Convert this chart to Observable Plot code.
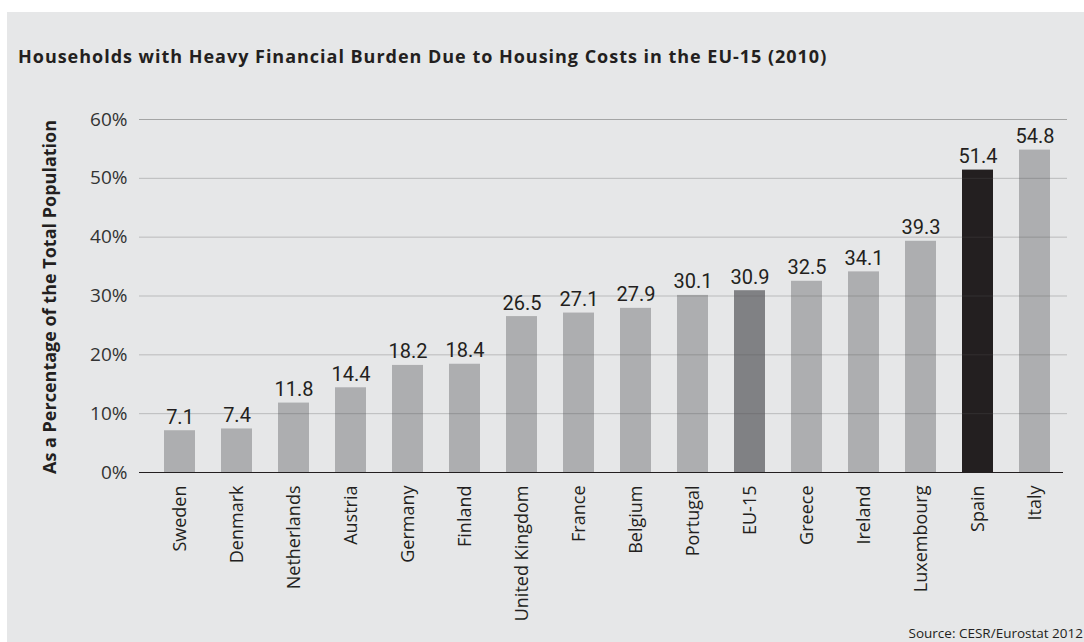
<!DOCTYPE html>
<html>
<head>
<meta charset="utf-8">
<script src="https://cdn.jsdelivr.net/npm/d3@7"></script>
<script src="https://cdn.jsdelivr.net/npm/@observablehq/plot@0.6"></script>
<style>
  html, body { margin: 0; padding: 0; background: #ffffff; }
  #wrap { position: absolute; left: 7px; top: 12px; width: 1077px; height: 630px; background: #e6e7e8; overflow: hidden; font-family: "Open Sans", sans-serif; }
  #title { position: absolute; left: 11px; top: 32px; font-size: 18px; letter-spacing: 0.98px; font-weight: bold; color: #231f20; white-space: nowrap; }
  #source { position: absolute; right: 1px; bottom: 0px; font-size: 13.5px; color: #231f20; white-space: nowrap; }
  #chart { position: absolute; left: 0; top: 0; }
</style>
</head>
<body>
<div id="wrap">
  <div id="chart"></div>
  <div id="title">Households with Heavy Financial Burden Due to Housing Costs in the EU-15 (2010)</div>
  <div id="source">Source: CESR/Eurostat 2012</div>
</div>
<script>
const countries = ["Sweden","Denmark","Netherlands","Austria","Germany","Finland","United Kingdom","France","Belgium","Portugal","EU-15","Greece","Ireland","Luxembourg","Spain","Italy"];
const values = [7.1, 7.4, 11.8, 14.4, 18.2, 18.4, 26.5, 27.1, 27.9, 30.1, 30.9, 32.5, 34.1, 39.3, 51.4, 54.8];
const yTicks = [0, 10, 20, 30, 40, 50, 60];
const yLabel = "As a Percentage of the Total Population";

const colorFor = c => c === "Spain" ? "#231f20" : c === "EU-15" ? "#808184" : "#adaeb0";
const data = countries.map((c, i) => ({country: c, value: values[i], fill: colorFor(c)}));

const chart = Plot.plot({
  width: 1077,
  height: 630,
  marginTop: 107,
  marginBottom: 170,
  marginLeft: 132,
  marginRight: 17,
  style: {background: "transparent", fontFamily: "Open Sans, sans-serif", color: "#231f20"},
  x: {domain: countries, paddingInner: 0.46, paddingOuter: 0.32, align: 0.6},
  y: {domain: [0, 60]},
  marks: [
    Plot.barY(data, {x: "country", y: "value", fill: "fill"}),
    Plot.ruleY(yTicks.filter(d => d > 0 && d < 60), {stroke: "#555", strokeOpacity: 0.3, strokeWidth: 1}),
    Plot.ruleY([60], {stroke: "#555", strokeOpacity: 0.45, strokeWidth: 1}),
    Plot.ruleY([0], {stroke: "#231f20", strokeWidth: 1.2, insetRight: 4}),
    Plot.axisY({ticks: yTicks, tickFormat: d => d + "%", tickSize: 0, tickPadding: 12, fontSize: 19, label: null, fill: "#333", style: {letterSpacing: "0.8px"}}),
    Plot.axisX({tickSize: 0, tickPadding: 13, tickRotate: -90, fontSize: 18, label: null, fill: "#231f20", style: {letterSpacing: "0.7px"}}),
    Plot.text(data, {x: "country", y: "value", text: d => d.value.toFixed(1), dy: -7, lineAnchor: "bottom", fontSize: 20, fontFamily: "Roboto", fill: "#231f20"}),
    Plot.text([yLabel], {frameAnchor: "left", dx: -89, dy: 1, rotate: -90, textAnchor: "middle", lineAnchor: "middle", fontSize: 18, fontWeight: "bold", fill: "#231f20", style: {letterSpacing: "0.55px"}})
  ]
});
document.getElementById("chart").appendChild(chart);
</script>
</body>
</html>
